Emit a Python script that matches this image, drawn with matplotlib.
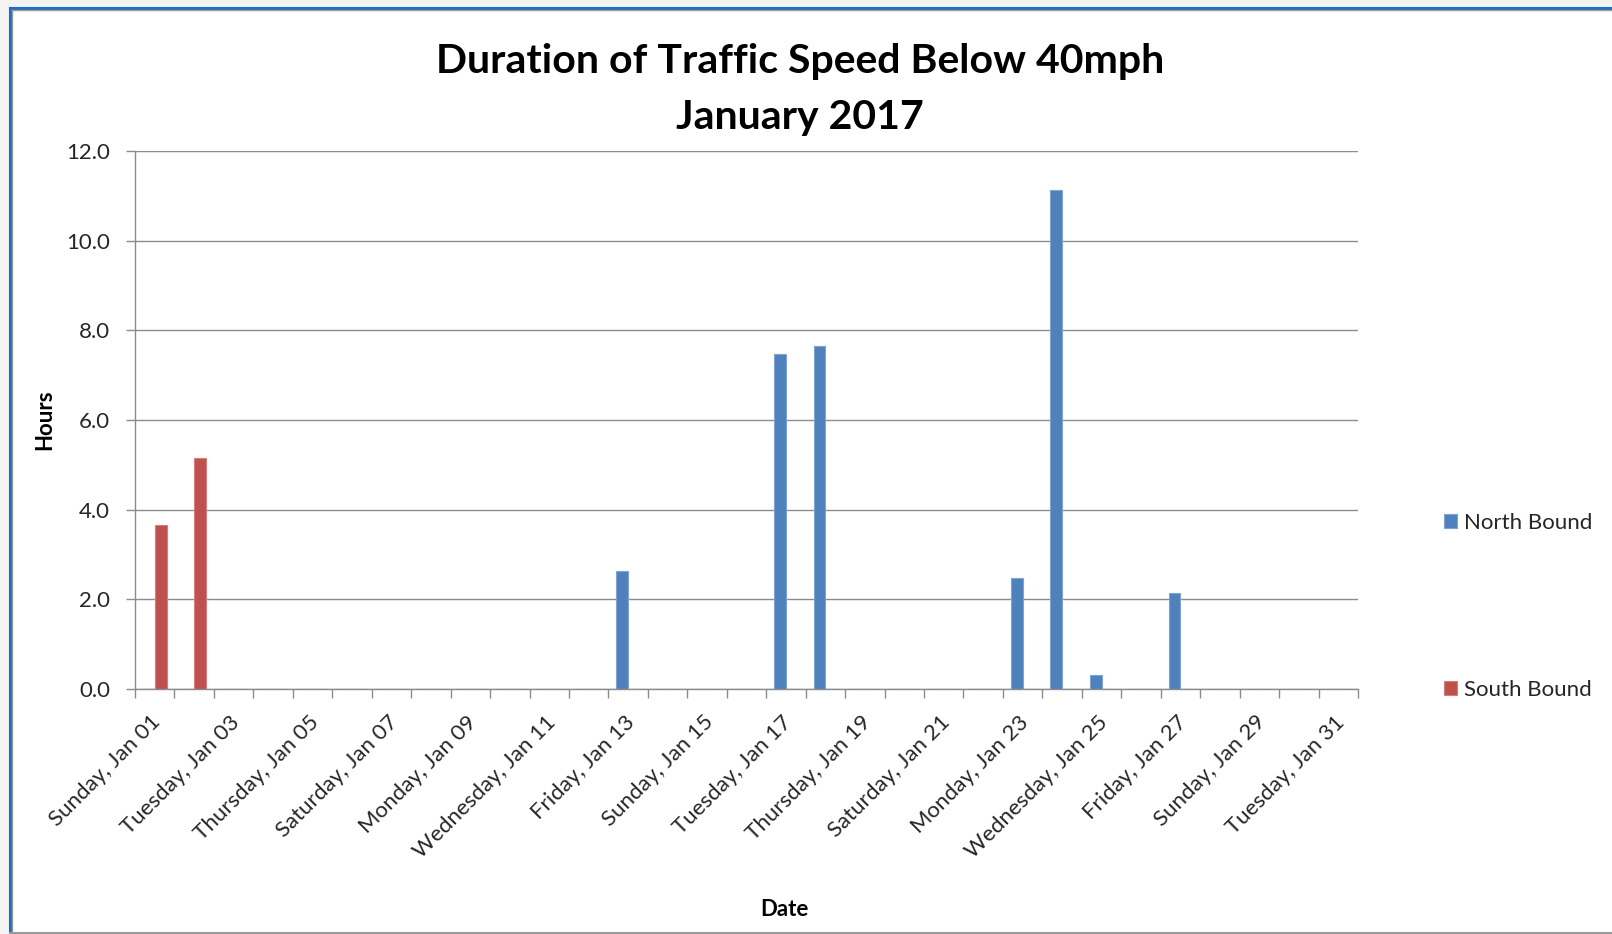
import numpy as np
import matplotlib
matplotlib.use("Agg")
import matplotlib.pyplot as plt
import matplotlib.transforms as mtransforms
from matplotlib.lines import Line2D
from matplotlib.patches import Rectangle

# ---------------- data ----------------
days = list(range(1, 32))  # January 2017, day of month
north_bound = [0, 0, 0, 0, 0, 0, 0, 0, 0, 0, 0, 0, 2.63, 0, 0, 0, 7.47, 7.64,
               0, 0, 0, 0, 2.47, 11.13, 0.31, 0, 2.15, 0, 0, 0, 0]
south_bound = [3.66, 5.15, 0, 0, 0, 0, 0, 0, 0, 0, 0, 0, 0, 0, 0, 0, 0, 0,
               0, 0, 0, 0, 0, 0, 0, 0, 0, 0, 0, 0, 0]
label_days = [1, 3, 5, 7, 9, 11, 13, 15, 17, 19, 21, 23, 25, 27, 29, 31]
tick_labels = ["Sunday, Jan 01", "Tuesday, Jan 03", "Thursday, Jan 05",
               "Saturday, Jan 07", "Monday, Jan 09", "Wednesday, Jan 11",
               "Friday, Jan 13", "Sunday, Jan 15", "Tuesday, Jan 17",
               "Thursday, Jan 19", "Saturday, Jan 21", "Monday, Jan 23",
               "Wednesday, Jan 25", "Friday, Jan 27", "Sunday, Jan 29",
               "Tuesday, Jan 31"]
y_ticks = [0, 2, 4, 6, 8, 10, 12]
series_names = ["North Bound", "South Bound"]
series_colors = ["#4F81BD", "#C0504D"]
edge_colors = ["#7FA3D3", "#D27E7C"]

# ---------------- style ----------------
FONT = ["Lato", "DejaVu Sans"]
plt.rcParams["font.family"] = FONT
W, H = 1612, 934
fig = plt.figure(figsize=(W / 100, H / 100), dpi=100, facecolor="#F3F3F3")

def fx(px):
    return px / W

def fy(py):
    return 1 - py / H

# chart-area frame
fig.patches.append(Rectangle((fx(10), fy(932)), 1, fy(9) - fy(932),
                             transform=fig.transFigure, facecolor="white",
                             edgecolor="none", zorder=-10))
frame_lines = [
    ([fx(10), 1], [fy(8), fy(8)], "#1F6CC4", 2.2),
    ([fx(10), fx(10)], [fy(8), 0], "#1F6CC4", 2.2),
    ([fx(11.5), 1], [fy(10), fy(10)], "#9A9A9A", 1.0),
    ([fx(12), fx(12)], [fy(10), 0], "#9A9A9A", 1.0),
    ([fx(10), 1], [fy(932.5), fy(932.5)], "#9A9A9A", 1.5),
]
for xs, ys, c, lw in frame_lines:
    fig.lines.append(Line2D(xs, ys, transform=fig.transFigure, color=c, lw=lw,
                            zorder=-5))

ax = fig.add_axes([fx(135), fy(689), fx(1358) - fx(135), fy(151) - fy(689)])
ax.set_zorder(1)
ax.set_facecolor("none")

x = np.array(days, dtype=float)
bw = 0.30
ax.bar(x - bw / 2, north_bound, width=bw, color=series_colors[0],
       edgecolor=edge_colors[0], linewidth=0.8, label=series_names[0], zorder=2)
ax.bar(x + bw / 2, south_bound, width=bw, color=series_colors[1],
       edgecolor=edge_colors[1], linewidth=0.8, label=series_names[1], zorder=2)

grid_c = "#8C8C8C"
ax.set_xlim(0.5, 31.5)
ax.set_ylim(0, 12)
ax.set_yticks(y_ticks)
ax.set_yticklabels([f"{v:.1f}" for v in y_ticks])
ax.yaxis.grid(True, color=grid_c, lw=1.0, zorder=0)
ax.set_axisbelow(True)
for s in ["top", "right"]:
    ax.spines[s].set_visible(False)
for s in ["left", "bottom"]:
    ax.spines[s].set_color(grid_c)
    ax.spines[s].set_linewidth(1.0)
    ax.spines[s].set_zorder(3)

ax.tick_params(axis="y", direction="out", length=6.5, width=1.0, color=grid_c,
               pad=11.5, labelsize=16, labelcolor="#262626")

ax.set_xticks(label_days)
ax.set_xticklabels(tick_labels)
ax.set_xticks(np.arange(0.5, 32, 1.0), minor=True)
ax.tick_params(axis="x", which="major", length=0, pad=16.5, labelsize=16,
               labelcolor="#262626")
ax.tick_params(axis="x", which="minor", direction="out", length=6.5, width=1.0,
               color=grid_c)
shift = mtransforms.ScaledTranslation(-4 / 100, 0, fig.dpi_scale_trans)
for lab in ax.get_xticklabels():
    lab.set_rotation(45)
    lab.set_rotation_mode("anchor")
    lab.set_ha("right")
    lab.set_va("top")
    lab.set_transform(lab.get_transform() + shift)

ax.set_ylabel("Hours", fontsize=16, fontweight="bold", color="black")
ax.yaxis.set_label_coords((45 - 135) / (1358 - 135), 0.5)
ax.yaxis.label.set_va("center")
ax.set_xlabel("Date", fontsize=16, fontweight="bold", color="black")
ax.xaxis.set_label_coords((784 - 135) / (1358 - 135), (689 - 909) / (689 - 151))
ax.xaxis.label.set_va("center")

fig.text(fx(800), fy(89.5), "Duration of Traffic Speed Below 40mph\nJanuary 2017",
         ha="center", va="center", fontsize=29.5, fontweight="bold",
         linespacing=1.66, color="black")

handles = [Rectangle((0, 0), 1, 1, facecolor=c, edgecolor=e, lw=0.8)
           for c, e in zip(series_colors, edge_colors)]
fig.legend(handles, series_names, loc="upper left",
           bbox_to_anchor=(fx(1444), fy(513)), frameon=False, fontsize=16,
           handlelength=0.6, handleheight=0.6, handletextpad=0.3,
           labelspacing=6.62, borderpad=0, borderaxespad=0,
           labelcolor="#262626")

fig.savefig("out.png", dpi=100, facecolor=fig.get_facecolor())
